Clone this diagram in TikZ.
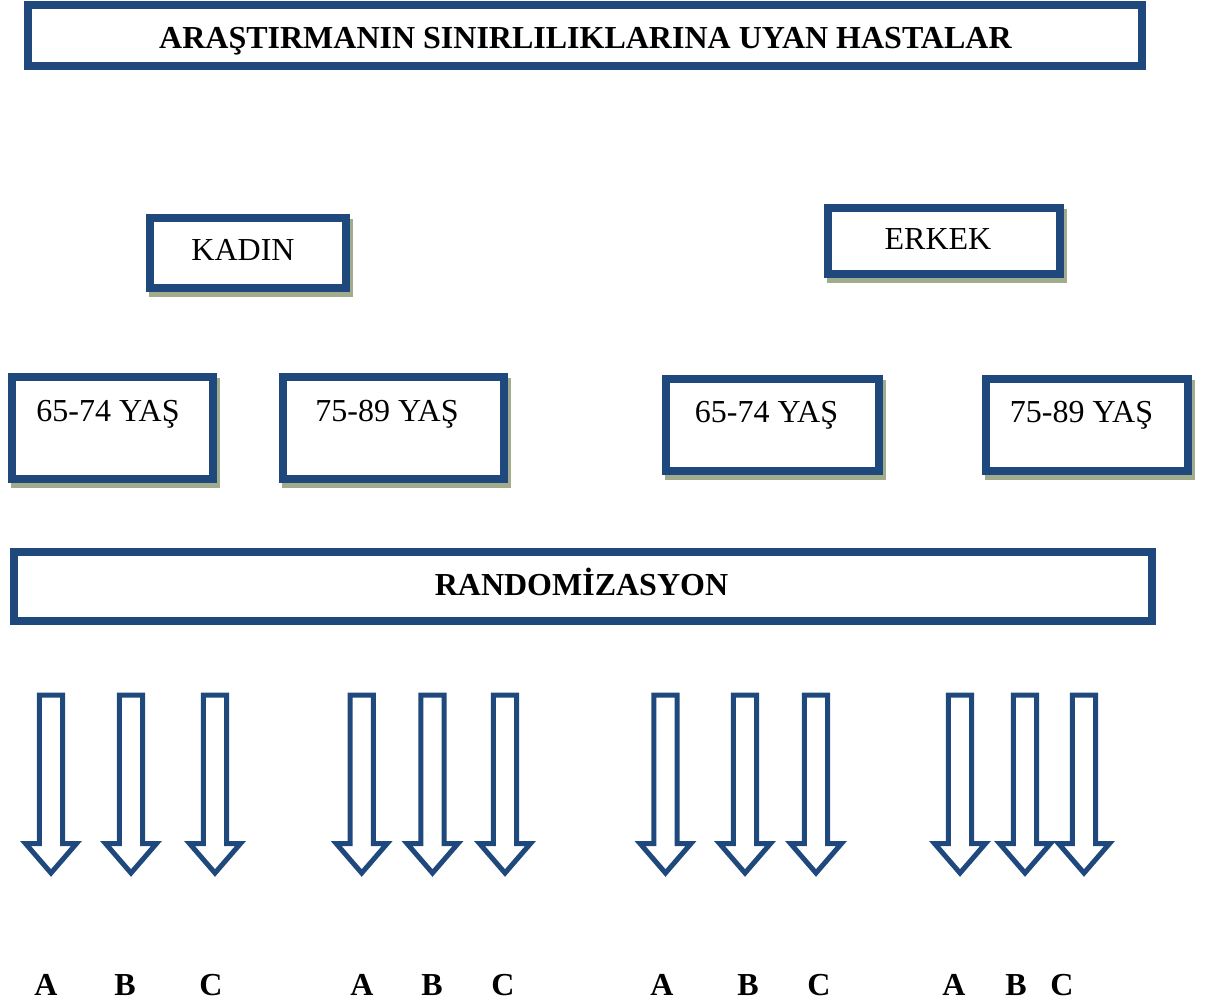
\documentclass[tikz,border=0pt]{standalone}
\usepackage{fontspec}
\setmainfont{Liberation Serif}
\usetikzlibrary{shadows}
\definecolor{bdr}{RGB}{31,73,125}
\definecolor{shd}{RGB}{160,172,140}
\begin{document}
\begin{tikzpicture}[x=1pt,y=-1pt,
  box/.style={draw=bdr, line width=8pt, fill=white, inner sep=0pt},
  sbox/.style={box, drop shadow={shadow xshift=3pt, shadow yshift=-5pt, fill=shd, draw=shd, line width=8pt, opacity=1}},
  txt/.style={anchor=base, inner sep=0pt, font=\fontsize{32}{38}\selectfont},
  btxt/.style={anchor=base, inner sep=0pt, font=\fontsize{32}{38}\selectfont\bfseries},
  blockarrow/.style={draw=bdr, line width=5pt, fill=white, miter limit=10}]
\useasboundingbox (0,0) rectangle (1207,1004);

% title
\node[box, minimum width=1114pt, minimum height=60.5pt] (title) at (585,35.25) {};
\node[btxt] (titletxt) at (585.5,48) {ARAŞTIRMANIN SINIRLILIKLARINA UYAN HASTALAR};

% sex boxes
\node[sbox, minimum width=196pt, minimum height=70pt] (kadin) at (248,253) {};
\node[txt] (kadintxt) at (243,260) {KADIN};
\node[sbox, minimum width=232pt, minimum height=66pt] (erkek) at (944,241) {};
\node[txt] (erkektxt) at (938,249) {ERKEK};

% age boxes
\node[sbox, minimum width=201.5pt, minimum height=102pt] (age1) at (112.25,428) {};
\node[txt] (age1txt) at (108,421) {65-74 YAŞ};
\node[sbox, minimum width=221pt, minimum height=102pt] (age2) at (393,428) {};
\node[txt] (age2txt) at (387,421) {75-89 YAŞ};
\node[sbox, minimum width=213pt, minimum height=92pt] (age3) at (772.5,425) {};
\node[txt] (age3txt) at (766.5,422) {65-74 YAŞ};
\node[sbox, minimum width=202pt, minimum height=92pt] (age4) at (1087,425) {};
\node[txt] (age4txt) at (1081.5,422) {75-89 YAŞ};

% randomization
\node[box, minimum width=1138pt, minimum height=69pt] (rand) at (583,586.5) {};
\node[btxt] (randtxt) at (581.5,595) {RANDOMİZASYON};

% block arrows
\foreach \c in {51,131,215,361.7,432.5,505,665.5,745,816,960,1025,1084} {
  \draw[blockarrow] (\c-11.7,695) -- (\c+11.7,695) -- (\c+11.7,843.5) -- (\c+25.5,843.5)
    -- (\c,873) -- (\c-25.5,843.5) -- (\c-11.7,843.5) -- cycle;
}

% group letters
\foreach \xx/\l/\n in {46/A/a1,125/B/b1,211/C/c1,362/A/a2,432/B/b2,503/C/c2,662/A/a3,748/B/b3,819/C/c3,954/A/a4,1016/B/b4,1062/C/c4} {
  \node[btxt] (\n) at (\xx,995) {\l};
}
\end{tikzpicture}
\end{document}
